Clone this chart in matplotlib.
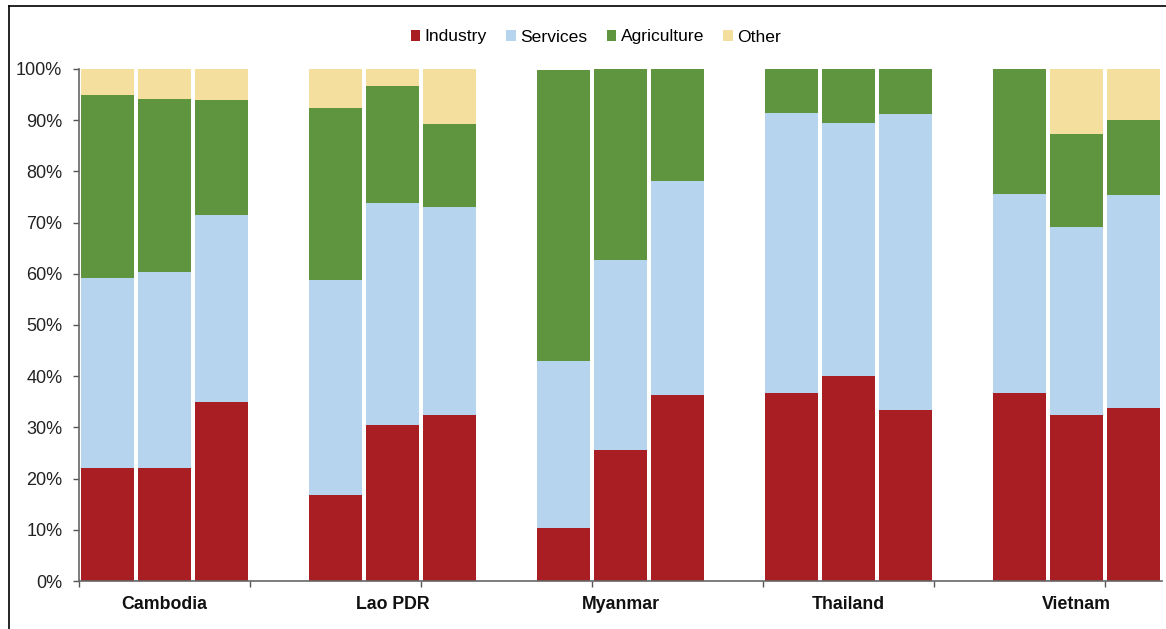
import numpy as np
import matplotlib
matplotlib.use("Agg")
from matplotlib import pyplot as plt
from matplotlib.lines import Line2D

plt.rcParams['font.family'] = ['Liberation Sans', 'DejaVu Sans']

countries = ['Cambodia', 'Lao PDR', 'Myanmar', 'Thailand', 'Vietnam']
sectors = ['Industry', 'Services', 'Agriculture', 'Other']
colors = ['#A91E22', '#B6D4EE', '#5E953E', '#F5DF9E']

# share of each sector (%), three bars per country
industry = [[22.0, 22.0, 34.9], [16.7, 30.5, 32.4], [10.3, 25.6, 36.3],
            [36.8, 40.0, 33.4], [36.8, 32.4, 33.7]]
services = [[37.1, 38.3, 36.5], [42.0, 43.4, 40.6], [32.7, 37.0, 41.8],
            [54.7, 49.5, 57.9], [38.8, 36.7, 41.6]]
agriculture = [[35.9, 33.8, 22.5], [33.7, 22.7, 16.3], [56.8, 37.4, 21.9],
               [8.5, 10.5, 8.7], [24.4, 18.3, 14.8]]
other = [[5.0, 5.9, 6.1], [7.6, 3.4, 10.7], [0.0, 0.0, 0.0],
         [0.0, 0.0, 0.0], [0.0, 12.6, 9.9]]

series = [np.array(s).ravel() for s in (industry, services, agriculture, other)]

# 3 bars per country with one empty slot between countries
x = np.array([4 * g + j for g in range(len(countries)) for j in range(3)])

fig = plt.figure(figsize=(11.66, 6.29), dpi=100)
ax = fig.add_axes([79 / 1166, 1 - 581 / 629, 1083 / 1166, 512 / 629])

bottom = np.zeros(len(x))
for vals, name, c in zip(series, sectors, colors):
    ax.bar(x, vals, width=0.92, bottom=bottom, color=c, label=name,
           edgecolor='none')
    bottom += vals

ax.set_xlim(-0.5, 18.5)
ax.set_ylim(0, 100)
ax.set_yticks(np.arange(0, 101, 10))
ax.set_yticklabels([f'{v}%' for v in range(0, 101, 10)])

# tick marks every three slots, country names under the middle bar
ax.set_xticks(np.arange(-0.5, 18.6, 3))
ax.set_xticklabels([])
ax.set_xticks([4 * g + 1 for g in range(len(countries))], minor=True)
ax.set_xticklabels(countries, minor=True, fontweight='bold', fontsize=12.8)
ax.tick_params(axis='x', which='minor', length=0, pad=11, colors='#111111')
ax.tick_params(axis='x', which='major', length=4, width=1, color='#555555')
ax.tick_params(axis='y', length=4, width=1, color='#555555', labelsize=13,
               labelcolor='#222222', pad=8)

for side in ('top', 'right'):
    ax.spines[side].set_visible(False)
for side in ('left', 'bottom'):
    ax.spines[side].set_color('#666666')
    ax.spines[side].set_linewidth(1.2)

leg = fig.legend(loc='center', bbox_to_anchor=(596 / 1166, 1 - 37 / 629), ncol=4,
                 frameon=False, fontsize=12.6, handlelength=0.55, handleheight=0.55,
                 handletextpad=0.25, columnspacing=1.1)

# thin frame along top and left edge
fig.add_artist(Line2D([9 / 1166, 9 / 1166], [0, 1 - 6 / 629],
                      color='black', lw=1.2, transform=fig.transFigure))
fig.add_artist(Line2D([9 / 1166, 1], [1 - 6 / 629, 1 - 6 / 629],
                      color='black', lw=1.2, transform=fig.transFigure))

fig.savefig('out.png', dpi=100, facecolor='white')
